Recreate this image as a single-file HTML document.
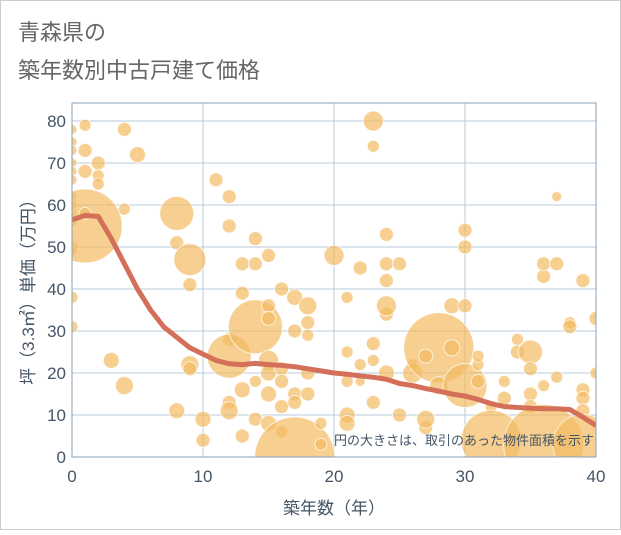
<!DOCTYPE html>
<html><head><meta charset="utf-8">
<style>
html,body{margin:0;padding:0;background:#fff;}
svg text{font-family:"Liberation Sans","Noto Sans CJK JP",sans-serif;}
</style></head>
<body>
<svg id="chart" width="621" height="530" viewBox="0 0 621 530" xmlns="http://www.w3.org/2000/svg">
<defs><clipPath id="plotclip"><rect x="72" y="103" width="524" height="354"/></clipPath></defs>
<rect x="0.5" y="0.5" width="620" height="529" fill="#fff" stroke="#ccc"/>
<text x="18" y="40" font-size="22" fill="#666">青森県の</text>
<text x="18" y="78" font-size="22" fill="#666">築年数別中古戸建て価格</text>
<g id="grid"></g>
<g id="bubbles" clip-path="url(#plotclip)"></g>
<g id="trend" clip-path="url(#plotclip)"></g>
<g id="axes"></g>
<text x="594" y="445" font-size="13" fill="#445566" text-anchor="end">円の大きさは、取引のあった物件面積を示す</text>
<text x="334" y="514" font-size="17" fill="#445566" text-anchor="middle">築年数（年）</text>
<text transform="translate(34,288) rotate(-90)" font-size="17" fill="#445566" text-anchor="middle">坪（3.3㎡）単価（万円）</text>
</svg>
<script>
const xTicks=[0,10,20,30,40];
const yTicks=[0,10,20,30,40,50,60,70,80];
const bubbleAge=[0,0,0,0,0,0,0,0,0,0,0,0,0,0,1,1,1,2,2,2,1,1,4,4,5,3,4,8,8,9,9,9,9,8,10,10,11,12,12,12,12,13,13,12,12,14,14,15,13,14,13,14,15,15,14,15,15,15,16,16,16,16,17,17,17,17,15,16,18,18,18,18,18,17,19,19,20,21,21,21,21,21,22,22,22,23,23,23,23,23,24,24,24,24,24,24,25,25,26,26,27,27,28,27,28,29,29,30,30,30,30,31,31,31,32,32,33,33,34,34,35,35,35,35,36,36,36,36,37,37,37,38,38,39,39,39,39,40,40,39];
const bubblePrice=[78,75,73,70,68,66,62,60,58,56,50,49,38,31,79,73,68,70,67,65,55,58,78,59,72,23,17,58,51,47,41,22,21,11,9,4,66,62,55,28,24,46,39,13,11,52,46,48,16,9,5,31,36,33,18,23,20,15,40,21,18,12,38,30,15,13,8,6,36,32,29,20,15,0,8,3,48,38,25,18,10,8,45,22,18,80,74,27,13,23,53,46,42,34,36,20,46,10,22,20,7,9,26,24,17,36,26,54,50,36,17,22,24,18,12,4,18,14,28,25,25,21,15,12,43,46,17,3,62,46,19,32,31,42,16,14,11,33,20,3];
const bubbleRadius=[5,5,5,5,5,5,5,5,5,5,6,5,6,6,6,7,7,7,6,6,37,6,7,6,8,8,9,17,7,16,7,9,7,8,8,7,7,7,7,7,22,7,7,7,9,7,7,7,8,7,7,27,7,7,6,10,8,8,7,7,7,7,8,7,7,7,8,6,9,7,6,7,7,40,6,6,10,6,6,6,8,8,7,6,5,10,6,7,7,6,7,7,7,7,10,8,7,7,6,10,7,9,35,7,9,8,8,7,7,7,22,6,6,7,6,30,6,7,6,7,12,7,7,7,7,7,6,40,5,7,6,6,7,7,7,7,7,7,6,30];
const trendAge=[0,1,2,3,4,5,6,7,8,9,10,11,12,13,14,15,16,17,18,19,20,21,22,23,24,25,26,27,28,29,30,31,32,33,34,35,36,37,38,39,40];
const trendPrice=[56.5,57.5,57.3,52,46,40,35,31,28.5,26,24.5,23,22.2,22,22.3,22,21.8,21.5,21,20.5,20,19.7,19.3,19,18.5,17.5,17,16.3,15.7,15,14.5,13.7,12.7,12,11.8,11.6,11.5,11.5,11.3,9.5,7.5];

const L=72,R=596,T=103,B=457;
const xs=v=>L+(v/40)*(R-L);
const ys=v=>B-(v/80)*(B-121);
const NS="http://www.w3.org/2000/svg";
function mk(tag,attrs,parent){const e=document.createElementNS(NS,tag);for(const k in attrs)e.setAttribute(k,attrs[k]);parent.appendChild(e);return e;}

const grid=document.getElementById('grid');
const bg=mk('rect',{x:L,y:T,width:R-L,height:B-T,fill:'#fff'},grid);


yTicks.forEach(t=>{
  const l=mk('line',{x1:L,x2:R,y1:ys(t),y2:ys(t),stroke:'#b8c8da','stroke-width':1},grid);
  
  
});
xTicks.forEach(t=>{
  const l=mk('line',{x1:xs(t),x2:xs(t),y1:T,y2:B,stroke:'#b8c8da','stroke-width':1},grid);
  
  
});

const bub=document.getElementById('bubbles');
bubbleAge.forEach((a,i)=>{
  const c=mk('circle',{cx:xs(a),cy:ys(bubblePrice[i]),r:bubbleRadius[i],fill:'#f2bb62','fill-opacity':0.7,stroke:'#fff','stroke-opacity':0.7,'stroke-width':1},bub);
  
  
});

const tr=document.getElementById('trend');
const p=mk('polyline',{points:trendAge.map((a,i)=>xs(a)+','+ys(trendPrice[i])).join(' '),fill:'none',stroke:'#d4705a','stroke-width':5,'stroke-linejoin':'round'},tr);



const ax=document.getElementById('axes');
const fr=mk('rect',{x:L,y:T,width:R-L,height:B-T,fill:'none',stroke:'#8aa0b8','stroke-width':1},ax);


yTicks.forEach(t=>{
  const tx=mk('text',{x:L-6,y:ys(t)+6,'font-size':17,fill:'#445566','text-anchor':'end'},ax);
  tx.textContent=t;
  
  
});
xTicks.forEach(t=>{
  const tx=mk('text',{x:xs(t),y:482,'font-size':17,fill:'#445566','text-anchor':'middle'},ax);
  tx.textContent=t;
  
  
});
</script>
</body></html>
